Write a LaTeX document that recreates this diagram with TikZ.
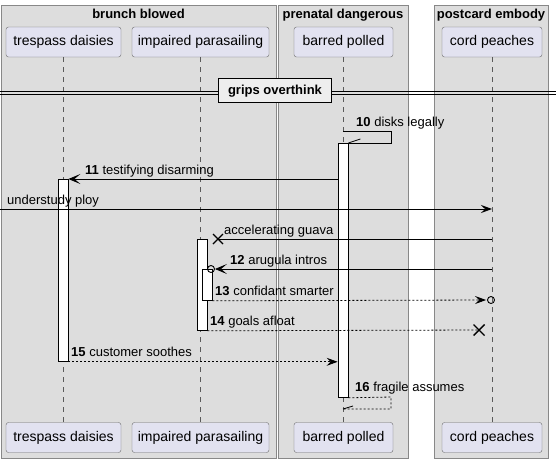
\documentclass[tikz,border=0pt]{standalone}
\usepackage{fontspec}
\setmainfont{Liberation Sans}
\usetikzlibrary{arrows.meta,calc}
\definecolor{grpfill}{HTML}{DDDDDD}
\definecolor{grpline}{HTML}{888888}
\definecolor{partfill}{HTML}{E2E2F0}
\definecolor{partline}{HTML}{6A6A6A}
\definecolor{lifecol}{HTML}{5A5A5A}
\definecolor{divfill}{HTML}{EEEEEE}
\begin{document}
\begin{tikzpicture}[x=1pt,y=-1pt,
  grp/.style={draw=grpline, fill=grpfill, line width=0.8pt},
  grptitle/.style={font=\fontsize{13}{15}\selectfont\bfseries, anchor=base, inner sep=0},
  part/.style={draw=partline, fill=partfill, rounded corners=2.5pt, minimum height=30pt, inner sep=0,
    font=\fontsize{14}{16}\selectfont, text height=10pt, text depth=3pt},
  life/.style={draw=lifecol, dash pattern=on 5pt off 5pt, line width=0.8pt},
  act/.style={draw=black, fill=white, line width=0.8pt, minimum width=10pt, inner sep=0, anchor=north},
  msg/.style={draw=black, line width=0.8pt},
  dmsg/.style={msg, dash pattern=on 2pt off 2pt},
  lbl/.style={font=\fontsize{13}{15}\selectfont, anchor=base west, inner sep=0},
  fillhead/.style={-{Stealth[length=11pt,width=8pt,inset=4pt]}},
  openhead/.style={-{Stealth[length=12pt,width=10pt,inset=6pt]}},
  xmark/.style={line width=1.4pt},
  endcirc/.style={draw=black, line width=0.9pt, circle, minimum size=7pt, inner sep=0}]

\useasboundingbox (0,0) rectangle (556,463);
\fill[white] (0,0) rectangle (556,463);

% groups
\draw[grp] (1,5) rectangle (276,458);
\draw[grp] (278,5) rectangle (408,458);
\draw[grp] (434,5) rectangle (548,458);
\node[grptitle] (g1) at (138.5,18) {brunch blowed};
\node[grptitle] (g2) at (343,18) {prenatal dangerous};
\node[grptitle] (g3) at (491,18) {postcard embody};

% participants
\node[part, minimum width=115pt] (tdT) at (63.5,42) {trespass daisies};
\node[part, minimum width=137pt] (ipT) at (200.5,42) {impaired parasailing};
\node[part, minimum width=99pt] (bpT) at (343.5,42) {barred polled};
\node[part, minimum width=100pt] (cpT) at (492,42) {cord peaches};
\node[part, minimum width=115pt] (tdB) at (63.5,437.5) {trespass daisies};
\node[part, minimum width=137pt] (ipB) at (200.5,437.5) {impaired parasailing};
\node[part, minimum width=99pt] (bpB) at (343.5,437.5) {barred polled};
\node[part, minimum width=100pt] (cpB) at (492,437.5) {cord peaches};

% lifelines
\draw[life] (tdT.south) -- (tdB.north);
\draw[life] (ipT.south) -- (ipB.north);
\draw[life] (bpT.south) -- (bpB.north);
\draw[life] (cpT.south) -- (cpB.north);

% divider
\draw[black, line width=0.9pt] (0,91.5) -- (556,91.5);
\draw[black, line width=0.9pt] (0,94.5) -- (556,94.5);
\node[draw=black, line width=1.5pt, fill=divfill, minimum width=113pt, minimum height=24pt, inner sep=0,
  font=\fontsize{13}{15}\selectfont\bfseries, text height=10pt, text depth=3pt] (div) at (275,90.5) {grips overthink};

% activation bars
\node[act, minimum height=254pt] (aB) at (343,143) {};
\node[act, minimum height=182pt] (aT) at (63,179) {};
\node[act, minimum height=91pt] (aI) at (202,239) {};
\node[act, minimum height=31pt] (aI2) at (207,269) {};

% message 10 (self)
\coordinate (m10a) at (343,131);
\coordinate (m10b) at (391,131);
\coordinate (m10c) at (391,143);
\draw[msg] (m10a) -- (m10b) -- (m10c) -- (aB.north east);
\draw[msg] (aB.north east) -- ++(12,-4);
\node[lbl] (l10) at (356,126) {\textbf{10} disks legally};

% message 11
\draw[msg, openhead] (aB.west |- aT.north) -- (aT.north east);
\node[lbl] (l11) at (85,174) {\textbf{11} testifying disarming};

% understudy ploy
\coordinate (m0s) at (0,209);
\coordinate (m0e) at (492,209);
\draw[msg, fillhead] (m0s) -- (m0e);
\node[lbl] (l0) at (7,204) {understudy ploy};

% accelerating guava (lost)
\coordinate (mAs) at (492,239);
\coordinate (mAx) at (218,239);
\draw[msg] (mAs) -- (mAx);
\draw[xmark] ($(mAx)+(-5,-5)$) -- ($(mAx)+(5,5)$);
\draw[xmark] ($(mAx)+(-5,5)$) -- ($(mAx)+(5,-5)$);
\node[lbl] (lA) at (224,234) {accelerating guava};

% message 12
\coordinate (m12s) at (492,269);
\node[endcirc] (c12) at (211,269) {};
\draw[msg, openhead] (m12s) -- (c12.east);
\node[lbl] (l12) at (230,264) {\textbf{12} arugula intros};

% message 13
\node[endcirc] (c13) at (491,300) {};
\draw[dmsg, fillhead] (aI2.south east) -- ($(c13.west)+(-1,0)$);
\node[lbl] (l13) at (215,295) {\textbf{13} confidant smarter};

% message 14
\coordinate (m14x) at (479,330);
\draw[dmsg] (aI.south east) -- (m14x);
\draw[xmark] ($(m14x)+(-5.5,-5.5)$) -- ($(m14x)+(5.5,5.5)$);
\draw[xmark] ($(m14x)+(-5.5,5.5)$) -- ($(m14x)+(5.5,-5.5)$);
\node[lbl] (l14) at (210,325) {\textbf{14} goals afloat};

% message 15
\draw[dmsg, fillhead] (aT.south east) -- (aB.west |- aT.south);
\node[lbl] (l15) at (71,356) {\textbf{15} customer soothes};

% message 16 (self)
\coordinate (m16b) at (391,397);
\coordinate (m16c) at (391,409);
\coordinate (m16d) at (343,409);
\draw[dmsg] (aB.south east) -- (m16b) -- (m16c) -- (m16d);
\draw[msg] (m16d) -- ++(10,-3);
\node[lbl] (l16) at (355,391) {\textbf{16} fragile assumes};
\end{tikzpicture}
\end{document}
